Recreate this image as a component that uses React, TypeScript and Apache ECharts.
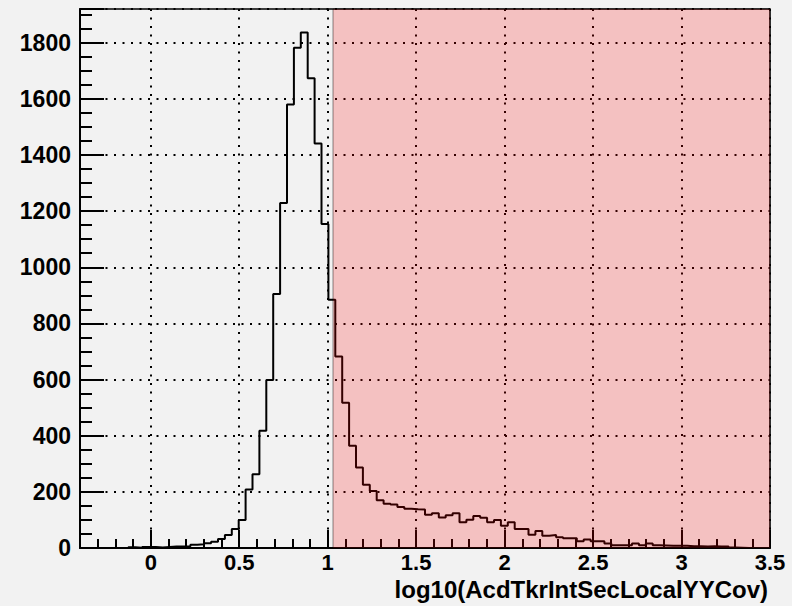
import React, { useEffect, useRef } from 'react';
import * as echarts from 'echarts';

// Histogram binning (100 bins from -0.4 to 3.5)
const binLow = -0.4;
const binWidth = 0.039;
// Bin contents
const counts = [
  0, 0, 0, 0, 0, 0, 0, 3, 1, 4,
  4, 2, 4, 5, 5, 6, 12, 13, 17, 22,
  32, 46, 68, 100, 208, 263, 418, 598, 905, 1229,
  1580, 1782, 1836, 1673, 1441, 1154, 884, 682, 517, 364,
  287, 225, 203, 170, 158, 155, 146, 140, 138, 137,
  118, 124, 109, 117, 124, 92, 101, 114, 108, 92,
  100, 79, 92, 68, 68, 47, 61, 44, 46, 38,
  35, 35, 24, 30, 24, 24, 16, 10, 10, 10,
  16, 10, 16, 10, 9, 8, 8, 8, 6, 6,
  5, 6, 5, 5, 2, 1, 0, 0, 0, 0,
];
// Shaded (cut) region
const cutLow = 1.03;
const cutHigh = 3.5;
// Axis ranges
const xMin = -0.4;
const xMax = 3.5;
const yMin = 0;
const yMax = 1920;
const xTitle = 'log10(AcdTkrIntSecLocalYYCov)';

export default function App() {
  const ref = useRef<HTMLDivElement>(null);
  useEffect(() => {
    const chart = echarts.init(ref.current!, null, { renderer: 'svg' });
    const lineData: number[][] = counts.map((c, i) => [binLow + i * binWidth, c]);
    lineData.push([binLow + counts.length * binWidth, counts[counts.length - 1]]);
    const font = {
      fontFamily: '"Liberation Sans", Arial, sans-serif',
      fontWeight: 'bold' as const,
      fontSize: 22,
      color: '#000',
    };
    const isMult = (v: number, step: number) => Math.abs(v / step - Math.round(v / step)) < 1e-6;
    chart.setOption({
      animation: false,
      backgroundColor: '#f2f2f2',
      grid: {
        left: 80, top: 9, right: 22, bottom: 58,
        show: true, borderColor: '#000', borderWidth: 1.5,
        containLabel: false, outerBoundsMode: 'none',
      },
      graphic: [
        {
          type: 'text', right: 24, top: 577,
          style: { text: xTitle, font: 'bold 24px "Liberation Sans", Arial, sans-serif', fill: '#000' },
        },
      ],
      xAxis: [
        {
          type: 'value', min: xMin, max: xMax, splitNumber: 8, position: 'bottom',
          axisLine: { show: true, onZero: false, lineStyle: { color: '#000', width: 2 } },
          axisTick: { show: true, inside: true, length: 18, lineStyle: { color: '#000', width: 2 } },
          axisLabel: {
            ...font, margin: 3, showMinLabel: false,
            formatter: (v: number) => (isMult(v, 0.5) ? String(+v.toFixed(2)) : ''),
          },
          splitLine: { show: true, lineStyle: { color: '#000', type: [2, 6.5], width: 2 } },
        },
        {
          type: 'value', min: xMin, max: xMax, interval: 0.1, position: 'bottom',
          axisLine: { show: false, onZero: false },
          axisTick: { show: true, inside: true, length: 9, lineStyle: { color: '#000', width: 2 } },
          axisLabel: { show: false },
          splitLine: { show: false },
        },
      ],
      yAxis: [
        {
          type: 'value', min: yMin, max: yMax, interval: 200, position: 'left',
          axisLine: { show: true, onZero: false, lineStyle: { color: '#000', width: 2 } },
          axisTick: { show: true, inside: true, length: 24, lineStyle: { color: '#000', width: 2 } },
          axisLabel: { ...font, fontSize: 23, margin: 9, formatter: (v: number) => (isMult(v, 200) ? String(v) : '') },
          splitLine: { show: true, lineStyle: { color: '#000', type: [2, 6.5], width: 2 } },
        },
        {
          type: 'value', min: yMin, max: yMax, interval: 50, position: 'left',
          axisLine: { show: false, onZero: false },
          axisTick: { show: true, inside: true, length: 12, lineStyle: { color: '#000', width: 2 } },
          axisLabel: { show: false },
          splitLine: { show: false },
        },
      ],
      series: [
        {
          type: 'line', xAxisIndex: 0, yAxisIndex: 0, z: 2,
          data: lineData, step: 'end', symbol: 'none',
          lineStyle: { color: '#000', width: 2 },
        },
        {
          type: 'line', xAxisIndex: 0, yAxisIndex: 0, z: 10,
          data: [], symbol: 'none',
          markArea: {
            silent: true, z: 10,
            itemStyle: { color: 'rgba(255,0,0,0.2)', borderColor: 'rgba(0,0,0,0.45)', borderWidth: 1 },
            label: { show: false },
            data: [[{ xAxis: cutLow }, { xAxis: cutHigh }]],
          },
        },
      ],
    });
    return () => chart.dispose();
  }, []);
  return (
    <div
      ref={ref}
      style={{ position: 'fixed', left: 0, top: 0, width: 792, height: 606, background: '#f2f2f2' }}
    />
  );
}
